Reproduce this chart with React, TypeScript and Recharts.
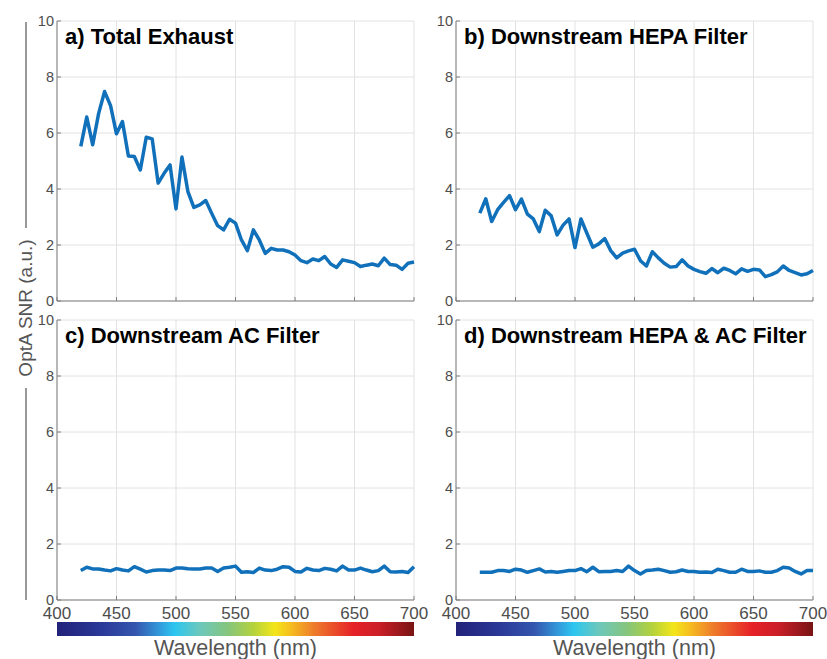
import React from 'react';
import { LineChart, Line, XAxis, YAxis, CartesianGrid } from 'recharts';

const wavelengths = [
  420, 425, 430, 435, 440, 445, 450, 455, 460, 465, 470, 475, 480, 485, 490, 495, 500,
  505, 510, 515, 520, 525, 530, 535, 540, 545, 550, 555, 560, 565, 570, 575, 580, 585,
  590, 595, 600, 605, 610, 615, 620, 625, 630, 635, 640, 645, 650, 655, 660, 665, 670,
  675, 680, 685, 690, 695, 700,
];

const totalExhaust = [
  5.52, 6.57, 5.58, 6.7, 7.48, 6.98, 5.97,
  6.41, 5.18, 5.16, 4.68, 5.85, 5.79, 4.21, 4.56, 4.86, 3.29,
  5.14, 3.91, 3.34, 3.43, 3.59, 3.13, 2.69, 2.54, 2.92, 2.78,
  2.18, 1.8, 2.54, 2.18, 1.7, 1.88, 1.82, 1.82, 1.76, 1.64,
  1.44, 1.37, 1.5, 1.44, 1.59, 1.32, 1.2, 1.47, 1.42, 1.37,
  1.23, 1.28, 1.32, 1.26, 1.53, 1.3, 1.28, 1.13, 1.35, 1.39,
];

const hepaFilter = [
  3.14, 3.65, 2.84, 3.26, 3.52, 3.76, 3.26,
  3.64, 3.1, 2.93, 2.48, 3.24, 3.04, 2.36, 2.71, 2.93, 1.91,
  2.93, 2.42, 1.92, 2.04, 2.23, 1.8, 1.54, 1.71, 1.79, 1.85,
  1.44, 1.25, 1.76, 1.54, 1.35, 1.21, 1.23, 1.47, 1.25, 1.13,
  1.05, 0.99, 1.16, 1.01, 1.17, 1.09, 0.97, 1.15, 1.06, 1.13,
  1.11, 0.87, 0.94, 1.04, 1.25, 1.09, 1.01, 0.93, 0.97, 1.09,
];

const acFilter = [
  1.05, 1.17, 1.11, 1.11, 1.07, 1.04, 1.12,
  1.07, 1.04, 1.19, 1.1, 1.0, 1.05, 1.07, 1.07, 1.05, 1.14,
  1.14, 1.12, 1.11, 1.11, 1.14, 1.14, 1.02, 1.14, 1.17, 1.21,
  0.99, 1.01, 0.98, 1.14, 1.07, 1.05, 1.1, 1.19, 1.17, 1.02,
  1.0, 1.13, 1.07, 1.05, 1.13, 1.1, 1.04, 1.21, 1.07, 1.07,
  1.14, 1.07, 1.01, 1.05, 1.21, 1.01, 1.0, 1.02, 0.98, 1.19,
];

const hepaAcFilter = [
  0.99, 0.99, 0.99, 1.05, 1.05, 1.02, 1.1,
  1.07, 0.99, 1.05, 1.11, 1.0, 1.02, 0.99, 1.02, 1.05, 1.05,
  1.12, 1.01, 1.17, 1.01, 1.02, 1.02, 1.05, 1.02, 1.21, 1.05,
  0.93, 1.05, 1.07, 1.1, 1.05, 0.99, 1.01, 1.07, 1.02, 1.02,
  0.99, 1.0, 0.98, 1.1, 1.05, 0.99, 0.99, 1.1, 1.02, 1.02,
  1.04, 0.99, 0.99, 1.05, 1.17, 1.14, 1.02, 0.93, 1.05, 1.05,
];

const xTicks = [400, 450, 500, 550, 600, 650, 700];
const yTicks = [0, 2, 4, 6, 8, 10];

const data = wavelengths.map((w, i) => ({
  w,
  total: totalExhaust[i],
  hepa: hepaFilter[i],
  ac: acFilter[i],
  hepaAc: hepaAcFilter[i],
}));

const FONT = '"Liberation Sans", Arial, sans-serif';
const AXIS = '#7f7f7f';
const TEXT = '#4d4d4d';
const LINE = '#1170ba';

const PLOT_W = 357;
const PLOT_H = 280;

// inward tick marks like matlab, labels optional
const BottomTick = (showLabel: boolean) => (props: any) => {
  const { x, y, payload } = props;
  return (
    <g>
      <line x1={x} x2={x} y1={y} y2={y - 4} stroke={AXIS} />
      {showLabel && (
        <text x={x} y={y + 19} textAnchor="middle" fontSize={17} fill={TEXT} fontFamily={FONT}>
          {payload.value}
        </text>
      )}
    </g>
  );
};

const TopTick = (props: any) => {
  const { x, y } = props;
  return <line x1={x} x2={x} y1={y} y2={y + 4} stroke={AXIS} />;
};

const LeftTick = (props: any) => {
  const { x, y, payload } = props;
  return (
    <g>
      <line x1={x} x2={x + 4} y1={y} y2={y} stroke={AXIS} />
      <text x={x - 3} y={y + 5} textAnchor="end" fontSize={14.5} fill={TEXT} fontFamily={FONT}>
        {payload.value}
      </text>
    </g>
  );
};

const RightTick = (props: any) => {
  const { x, y } = props;
  return <line x1={x} x2={x - 4} y1={y} y2={y} stroke={AXIS} />;
};

interface PanelProps {
  dataKey: string;
  title: string;
  left: number;
  top: number;
  showXLabels: boolean;
}

const Panel: React.FC<PanelProps> = ({ dataKey, title, left, top, showXLabels }) => (
  <div style={{ position: 'absolute', left: left - 40, top: top - 10 }}>
    <LineChart
      width={40 + PLOT_W + 10}
      height={10 + PLOT_H + 30}
      data={data}
      margin={{ top: 10, right: 10, left: 0, bottom: 0 }}
      style={{ overflow: 'visible' }}
    >
      <CartesianGrid stroke="#e2e2e2" strokeWidth={1} />
      <XAxis
        dataKey="w"
        type="number"
        domain={[400, 700]}
        ticks={xTicks}
        interval={0}
        height={30}
        tickSize={0}
        tickMargin={0}
        tickLine={false}
        axisLine={{ stroke: AXIS }}
        tick={BottomTick(showXLabels)}
      />
      <XAxis
        xAxisId="top"
        orientation="top"
        type="number"
        domain={[400, 700]}
        ticks={xTicks}
        interval={0}
        height={0}
        tickSize={0}
        tickMargin={0}
        tickLine={false}
        axisLine={{ stroke: AXIS }}
        tick={TopTick}
      />
      <YAxis
        type="number"
        domain={[0, 10]}
        ticks={yTicks}
        interval={0}
        width={40}
        tickSize={0}
        tickMargin={0}
        tickLine={false}
        axisLine={{ stroke: AXIS }}
        tick={LeftTick}
      />
      <YAxis
        yAxisId="right"
        orientation="right"
        type="number"
        domain={[0, 10]}
        ticks={yTicks}
        interval={0}
        width={0}
        tickSize={0}
        tickMargin={0}
        tickLine={false}
        axisLine={{ stroke: AXIS }}
        tick={RightTick}
      />
      <Line
        type="linear"
        dataKey={dataKey}
        stroke={LINE}
        strokeWidth={3.5}
        strokeLinejoin="round"
        dot={false}
        isAnimationActive={false}
      />
    </LineChart>
    <div
      style={{
        position: 'absolute',
        left: 48,
        top: 13,
        fontFamily: FONT,
        fontWeight: 'bold',
        fontSize: 22,
        color: '#000',
        whiteSpace: 'nowrap',
        lineHeight: '26px',
      }}
    >
      {title}
    </div>
  </div>
);

const spectrumStops = [
  { o: 0, c: '#22227a' },
  { o: 0.12, c: '#2a3896' },
  { o: 0.22, c: '#3456ae' },
  { o: 0.29, c: '#329ddd' },
  { o: 0.33, c: '#2cc6f0' },
  { o: 0.4, c: '#6cc8bc' },
  { o: 0.48, c: '#86c57c' },
  { o: 0.55, c: '#b4d23c' },
  { o: 0.61, c: '#f3e61a' },
  { o: 0.65, c: '#f6c21f' },
  { o: 0.72, c: '#ee7c2b' },
  { o: 0.83, c: '#e62128' },
  { o: 0.9, c: '#cc1f28' },
  { o: 1, c: '#781414' },
];

const ColorBar: React.FC<{ left: number; id: string }> = ({ left, id }) => (
  <div style={{ position: 'absolute', left, top: 622 }}>
    <svg width={PLOT_W} height={14} style={{ display: 'block' }}>
      <defs>
        <linearGradient id={id} x1="0" y1="0" x2="1" y2="0">
          {spectrumStops.map((s) => (
            <stop key={s.o} offset={s.o} stopColor={s.c} />
          ))}
        </linearGradient>
      </defs>
      <rect x={0} y={0} width={PLOT_W} height={14} fill={`url(#${id})`} />
    </svg>
    <div
      style={{
        position: 'absolute',
        left: 0,
        width: PLOT_W,
        top: 14,
        textAlign: 'center',
        fontFamily: FONT,
        fontSize: 21.5,
        color: '#555',
        lineHeight: '24px',
        whiteSpace: 'nowrap',
      }}
    >
      Wavelength (nm)
    </div>
  </div>
);

export default function App() {
  return (
    <div style={{ position: 'absolute', left: 0, top: 0, width: 827, height: 659, background: '#fff', overflow: 'hidden' }}>
      <style>{'.recharts-surface { overflow: visible; }'}</style>
      <Panel dataKey="total" title="a) Total Exhaust" left={57} top={21} showXLabels={false} />
      <Panel dataKey="hepa" title="b) Downstream HEPA Filter" left={456} top={21} showXLabels={false} />
      <Panel dataKey="ac" title="c) Downstream AC Filter" left={57} top={320} showXLabels={true} />
      <Panel dataKey="hepaAc" title="d) Downstream HEPA & AC Filter" left={456} top={320} showXLabels={true} />
      <ColorBar left={57} id="specA" />
      <ColorBar left={456} id="specB" />
      <svg width={60} height={659} style={{ position: 'absolute', left: 0, top: 0 }}>
        <line x1={26} x2={26} y1={22} y2={228} stroke="#777" strokeWidth={1.5} />
        <line x1={26} x2={26} y1={388} y2={600} stroke="#777" strokeWidth={1.5} />
        <text
          x={0}
          y={0}
          transform="translate(32, 308) rotate(-90)"
          textAnchor="middle"
          fontSize={19}
          fill="#555"
          fontFamily={FONT}
        >
          OptA SNR (a.u.)
        </text>
      </svg>
    </div>
  );
}
